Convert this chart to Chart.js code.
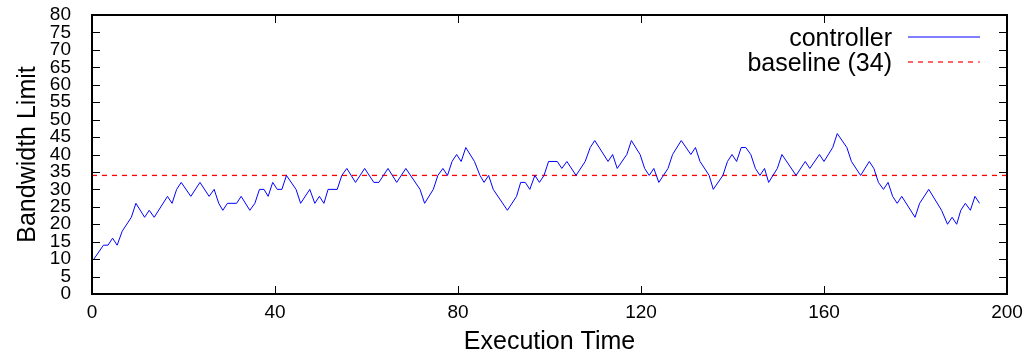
<!DOCTYPE html>
<html>
<head>
<meta charset="utf-8">
<title>Bandwidth Limit</title>
<script src="https://cdn.jsdelivr.net/npm/chart.js@4.4.0/dist/chart.umd.min.js"></script>
<style>
html, body { margin: 0; padding: 0; background: #fff; }
</style>
</head>
<body>
<canvas id="bwChart" width="1029" height="360"></canvas>
<script>
// controller output: turning points of the bandwidth limit over execution time
var execTime = [
  0.4, 2.5, 3.5, 4.5, 5.5, 6.6, 8.6, 9.6, 11.5, 12.5, 13.6, 16.5, 17.5, 18.5, 19.5, 21.6,
  23.6, 25.6, 26.7, 27.7, 28.6, 29.6, 31.6, 32.6, 34.5, 35.6, 36.6, 37.6, 38.5, 39.5, 40.5,
  41.5, 42.5, 44.6, 45.6, 47.6, 48.7, 49.7, 50.7, 51.6, 53.6, 54.6, 55.7, 57.6, 59.6, 61.6,
  62.7, 64.7, 66.6, 68.6, 71.7, 72.7, 74.6, 75.6, 76.7, 77.7, 78.7, 79.7, 80.7, 81.7, 83.6,
  84.8, 85.7, 86.7, 87.7, 90.8, 92.8, 93.7, 94.7, 95.7, 96.8, 97.8, 98.8, 99.8, 101.7, 102.7,
  103.8, 105.8, 107.8, 108.9, 109.9, 112.8, 113.8, 114.8, 116.9, 117.9, 119.8, 120.8, 121.8,
  122.8, 123.9, 125.9, 126.9, 128.8, 130.9, 131.9, 132.9, 134.9, 135.8, 137.9, 138.9, 139.9,
  140.9, 141.9, 142.9, 144, 145, 146, 147, 147.9, 149.8, 150.8, 153.9, 155.9, 156.9, 159,
  160, 161.9, 162.9, 165, 166, 168, 169.9, 170.9, 171.9, 173, 174, 175, 176, 177, 179.9,
  180.9, 182.9, 185.7, 187, 188, 189, 189.9, 190.9, 192, 193, 194
];
var bandwidth = [
  10, 14, 14, 16, 14, 18, 22, 26, 22, 24, 22, 28, 26, 30, 32, 28,
  32, 28, 30, 26, 24, 26, 26, 28, 24, 26, 30, 30, 28, 32, 30,
  30, 34, 30, 26, 30, 26, 28, 26, 30, 30, 34, 36, 32, 36, 32,
  32, 36, 32, 36, 30, 26, 30, 34, 36, 34, 38, 40, 38, 42, 38,
  34, 32, 34, 30, 24, 28, 32, 32, 30, 34, 32, 34, 38, 38, 36,
  38, 34, 38, 42, 44, 38, 40, 36, 40, 44, 40, 36, 34,
  36, 32, 36, 40, 44, 40, 42, 38, 34, 30, 34, 38, 40,
  38, 42, 42, 40, 36, 34, 36, 32, 36, 40, 34, 38, 36, 40,
  38, 42, 46, 42, 38, 34, 38, 36, 32, 30, 32, 28, 26, 28, 22,
  26, 30, 24, 20, 22, 20, 24, 26, 24, 28, 26
];
var baselineLimit = 34;
var seriesNames = ['controller', 'baseline (' + baselineLimit + ')'];
var seriesColors = ['#0000ff', '#ff0000'];

var xRange = [0, 200], xStep = 40;
var yRange = [0, 80], yStep = 5;

var FONT = '"Liberation Sans", Arial, Helvetica, sans-serif';
Chart.defaults.color = '#000';
Chart.defaults.font.family = FONT;

var controllerPts = execTime.map(function (t, i) { return { x: t, y: bandwidth[i] }; });
var baselinePts = xRange.map(function (t) { return { x: t, y: baselineLimit }; });

// gnuplot-like box: border, inward ticks on every side, key in the top right
var frameAndKey = {
  id: 'frameAndKey',
  afterDatasetsDraw: function (chart) {
    var ctx = chart.ctx, a = chart.chartArea, x = chart.scales.x, y = chart.scales.y;
    ctx.save();
    ctx.strokeStyle = '#000';
    ctx.lineWidth = 1;
    ctx.beginPath();
    y.ticks.forEach(function (t) {
      var py = Math.round(y.getPixelForValue(t.value)) + 0.5;
      ctx.moveTo(a.left, py); ctx.lineTo(a.left + 8, py);
      ctx.moveTo(a.right, py); ctx.lineTo(a.right - 8, py);
    });
    x.ticks.forEach(function (t) {
      var px = Math.round(x.getPixelForValue(t.value)) + 0.5;
      ctx.moveTo(px, a.bottom); ctx.lineTo(px, a.bottom - 8);
      ctx.moveTo(px, a.top); ctx.lineTo(px, a.top + 8);
    });
    ctx.stroke();
    ctx.lineWidth = 2;
    ctx.strokeRect(a.left, a.top, a.right - a.left, a.bottom - a.top);

    ctx.font = '25px ' + FONT;
    ctx.textAlign = 'right';
    ctx.textBaseline = 'middle';
    chart.data.datasets.forEach(function (ds, i) {
      var ly = a.top + 22 + i * 25;
      ctx.fillStyle = '#000';
      ctx.fillText(ds.label, a.right - 115, ly + 2);
      ctx.strokeStyle = seriesColors[i];
      ctx.lineWidth = 1.2;
      ctx.setLineDash(ds.borderDash || []);
      ctx.beginPath();
      ctx.moveTo(a.right - 99, ly);
      ctx.lineTo(a.right - 27, ly);
      ctx.stroke();
    });
    ctx.restore();
  }
};

new Chart(document.getElementById('bwChart'), {
  type: 'line',
  data: {
    datasets: [{
      label: seriesNames[0],
      data: controllerPts,
      borderColor: seriesColors[0],
      borderWidth: 1,
      pointRadius: 0,
      tension: 0
    }, {
      label: seriesNames[1],
      data: baselinePts,
      borderColor: seriesColors[1],
      borderWidth: 1.3,
      borderDash: [5, 5],
      pointRadius: 0
    }]
  },
  options: {
    responsive: false,
    animation: false,
    events: [],
    layout: { padding: { left: 0, top: 15, right: 22, bottom: 0 } },
    plugins: { legend: { display: false }, tooltip: { enabled: false } },
    scales: {
      x: {
        type: 'linear',
        min: xRange[0], max: xRange[1],
        grid: { display: false },
        border: { display: false },
        ticks: { stepSize: xStep, padding: 1, font: { size: 19, lineHeight: 1 }, maxRotation: 0 },
        title: { display: true, text: 'Execution Time', font: { size: 25, lineHeight: 1 }, padding: { top: 0, bottom: 5 } },
        afterFit: function (s) { s.height = 66; s.paddingLeft = 0; s.paddingRight = 0; }
      },
      y: {
        min: yRange[0], max: yRange[1],
        grid: { display: false },
        border: { display: false },
        ticks: { stepSize: yStep, padding: 13, autoSkip: false, font: { size: 19, lineHeight: 1 } },
        title: { display: true, text: 'Bandwidth Limit', font: { size: 25, lineHeight: 1 }, padding: { top: 16, bottom: 0 } },
        afterFit: function (s) { s.width = 92; s.paddingTop = 0; s.paddingBottom = 0; }
      }
    }
  },
  plugins: [frameAndKey]
});
</script>
</body>
</html>
